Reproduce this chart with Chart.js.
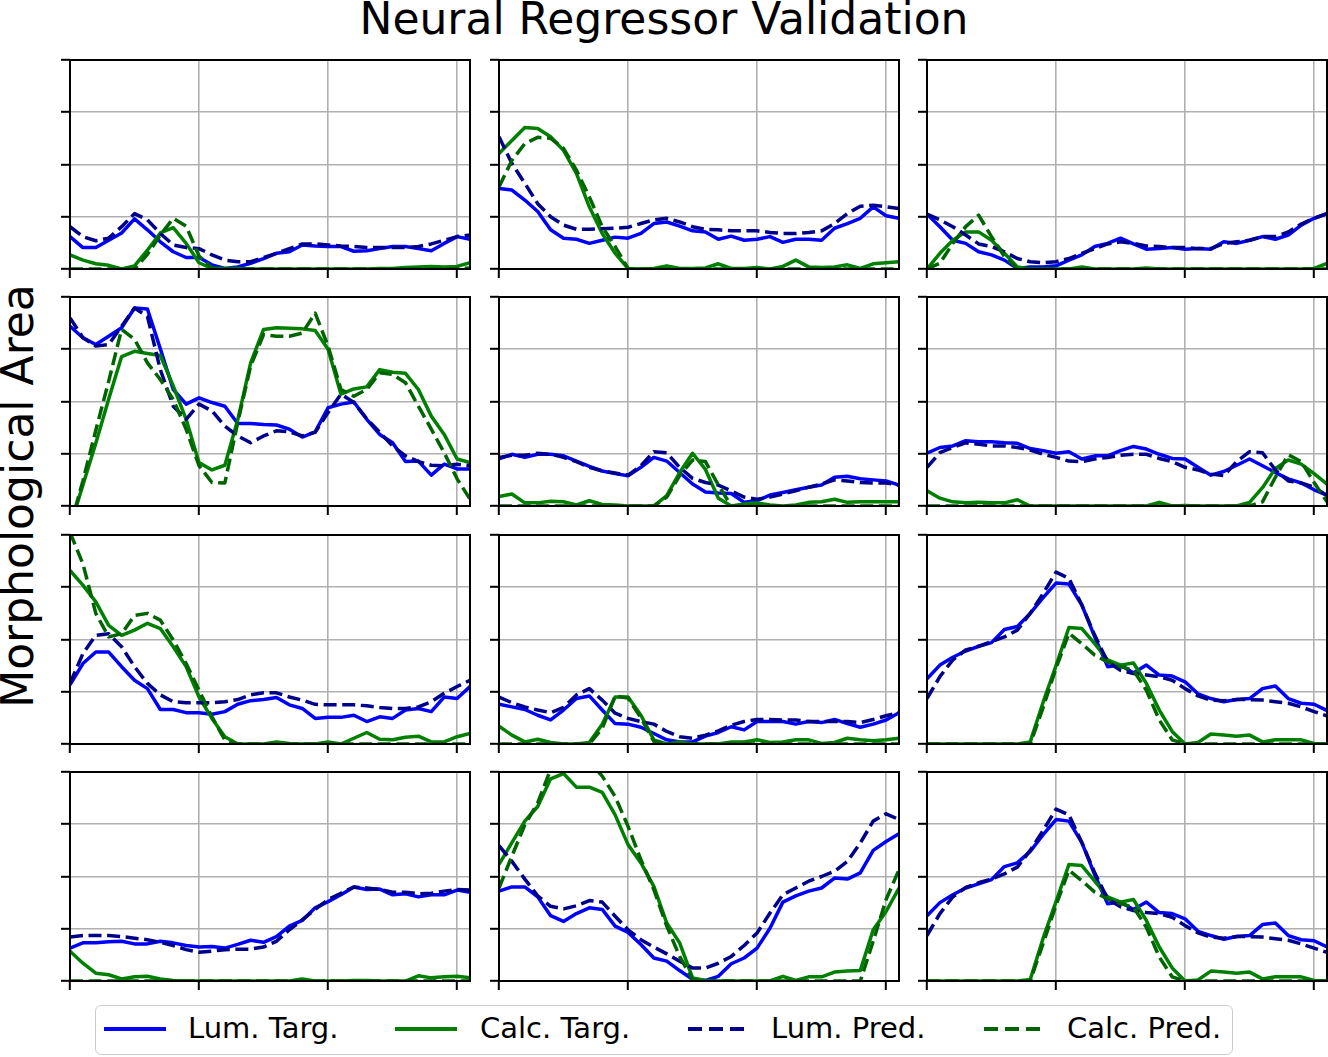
<!DOCTYPE html>
<html>
<head>
<meta charset="utf-8">
<script src="https://cdn.jsdelivr.net/npm/chart.js@4.4.1/dist/chart.umd.min.js"></script>
<style>
html,body{margin:0;padding:0;background:#fff;}
body{width:1328px;height:1057px;position:relative;overflow:hidden;font-family:"DejaVu Sans",sans-serif;color:#000;}
canvas.panel{position:absolute;}
#title{position:absolute;left:0;width:1328px;text-align:center;top:-3px;font-size:44px;line-height:44px;white-space:nowrap;}
#ylabel{position:absolute;left:18px;top:496px;font-size:44px;line-height:44px;white-space:nowrap;transform:translate(-50%,-50%) rotate(-90deg);}
#legend{position:absolute;left:95px;top:1005px;width:1136px;height:48px;border:1.5px solid #cccccc;border-radius:6px;background:#fff;}
.lg-line{position:absolute;height:4px;top:1027px;width:62px;}
.lg-text{position:absolute;top:1013px;font-size:29px;line-height:30px;white-space:nowrap;}
</style>
</head>
<body>
<div id="title">Neural Regressor Validation</div>
<div id="ylabel">Morphological Area</div>
<div id="legend"></div>
<div id="charts"></div>
<script>
// ---- data ----
const steps = [0,1,2,3,4,5,6,7,8,9,10,11,12,13,14,15,16,17,18,19,20,21,22,23,24,25,26,27,28,29,30,31];
const xTickValues = [0,10,20,30];
const yTickValues = [0,1,2,3,4];
const seriesNames = ["Lum. Targ.","Calc. Targ.","Lum. Pred.","Calc. Pred."];

// Lum. Targ. (one array per panel, row by row)
const lumTarg = [
 [0.62,0.41,0.41,0.55,0.69,0.96,0.75,0.52,0.33,0.22,0.22,0.08,0.01,0.04,0.11,0.20,0.30,0.33,0.46,0.44,0.43,0.43,0.34,0.35,0.39,0.43,0.43,0.39,0.35,0.49,0.62,0.57],
 [1.54,1.51,1.32,1.10,0.75,0.59,0.57,0.49,0.55,0.61,0.59,0.68,0.87,0.90,0.82,0.73,0.71,0.57,0.63,0.55,0.57,0.62,0.51,0.57,0.57,0.55,0.78,0.87,0.97,1.19,1.02,0.97],
 [1.05,0.81,0.55,0.49,0.33,0.27,0.17,0.01,0.04,0.04,0.06,0.17,0.27,0.43,0.49,0.59,0.48,0.38,0.39,0.41,0.38,0.39,0.38,0.52,0.49,0.55,0.62,0.57,0.65,0.84,0.97,1.06],
 [3.44,3.22,3.09,3.25,3.41,3.79,3.77,3.01,2.23,1.95,2.07,1.98,1.91,1.58,1.58,1.56,1.55,1.47,1.32,1.42,1.88,1.95,1.99,1.66,1.37,1.21,0.85,0.86,0.59,0.80,0.71,0.71],
 [0.90,0.99,0.93,0.99,0.99,0.96,0.86,0.76,0.67,0.62,0.58,0.74,0.93,0.86,0.64,0.42,0.27,0.25,0.24,0.07,0.10,0.21,0.26,0.31,0.36,0.40,0.55,0.57,0.52,0.50,0.48,0.40],
 [1.01,1.12,1.15,1.25,1.23,1.23,1.21,1.20,1.10,1.06,1.01,1.04,0.90,0.96,0.96,1.06,1.14,1.09,0.99,0.91,0.90,0.74,0.59,0.66,0.78,0.90,0.77,0.64,0.52,0.44,0.31,0.21],
 [1.13,1.54,1.76,1.76,1.48,1.22,1.06,0.66,0.66,0.60,0.60,0.57,0.62,0.76,0.83,0.85,0.89,0.75,0.68,0.49,0.51,0.51,0.55,0.43,0.52,0.49,0.65,0.68,0.62,0.90,0.87,1.10],
 [0.76,0.71,0.66,0.55,0.46,0.65,0.87,0.92,0.65,0.39,0.38,0.32,0.20,0.08,0.04,0.04,0.15,0.22,0.33,0.27,0.43,0.43,0.43,0.38,0.43,0.41,0.47,0.39,0.32,0.38,0.46,0.60],
 [1.25,1.51,1.66,1.78,1.87,1.94,2.19,2.25,2.50,2.80,3.08,3.06,2.66,2.05,1.48,1.51,1.36,1.51,1.32,1.30,1.19,0.96,0.87,0.81,0.85,0.87,1.06,1.11,0.87,0.78,0.76,0.64],
 [0.63,0.73,0.73,0.75,0.76,0.71,0.71,0.76,0.73,0.68,0.65,0.66,0.63,0.70,0.78,0.74,0.85,1.05,1.16,1.40,1.52,1.65,1.80,1.75,1.76,1.65,1.67,1.61,1.65,1.65,1.74,1.70],
 [1.72,1.80,1.80,1.61,1.25,1.14,1.29,1.40,1.37,1.05,0.93,0.70,0.44,0.38,0.20,0.03,0.01,0.09,0.33,0.44,0.63,1.01,1.51,1.63,1.72,1.78,1.97,1.95,2.07,2.50,2.67,2.82],
 [1.25,1.50,1.65,1.78,1.86,1.94,2.19,2.26,2.48,2.80,3.09,3.06,2.65,2.03,1.48,1.51,1.37,1.51,1.31,1.29,1.19,0.95,0.87,0.80,0.85,0.87,1.08,1.11,0.87,0.79,0.77,0.65]
];

// Calc. Targ.
const calcTarg = [
 [0.27,0.17,0.10,0.07,0.00,0.06,0.36,0.69,0.79,0.49,0.12,0.01,0.01,0.01,0.00,0.00,0.00,0.00,0.00,0.00,0.00,0.00,0.00,0.00,0.01,0.01,0.03,0.04,0.05,0.04,0.05,0.12],
 [2.21,2.46,2.71,2.69,2.53,2.27,1.83,1.19,0.68,0.30,0.01,0.00,0.01,0.06,0.01,0.01,0.02,0.10,0.01,0.01,0.03,0.00,0.05,0.17,0.04,0.03,0.04,0.08,0.01,0.10,0.12,0.14],
 [0.00,0.30,0.55,0.71,0.71,0.55,0.30,0.04,0.00,0.00,0.00,0.00,0.04,0.00,0.00,0.00,0.00,0.02,0.00,0.00,0.00,0.00,0.00,0.00,0.00,0.00,0.00,0.00,0.00,0.00,0.01,0.11],
 [-0.40,0.40,1.20,2.05,2.86,2.96,2.92,2.88,2.30,1.66,0.83,0.69,0.78,1.65,2.74,3.38,3.41,3.40,3.39,3.36,3.00,2.14,2.24,2.28,2.61,2.56,2.54,2.23,1.72,1.37,0.90,0.83],
 [0.18,0.23,0.06,0.06,0.09,0.08,0.02,0.10,0.03,0.02,0.00,0.00,0.00,0.20,0.64,1.01,0.70,0.15,0.00,0.04,0.06,0.02,0.00,0.02,0.07,0.08,0.13,0.07,0.08,0.08,0.08,0.08],
 [0.29,0.15,0.08,0.06,0.07,0.06,0.06,0.12,0.00,0.00,0.00,0.00,0.00,0.00,0.00,0.00,0.00,0.00,0.07,0.00,0.01,0.00,0.00,0.00,0.00,0.07,0.35,0.72,0.88,0.80,0.62,0.42],
 [3.32,3.04,2.72,2.27,2.08,2.18,2.31,2.21,1.86,1.48,0.90,0.49,0.14,0.00,0.00,0.00,0.04,0.01,0.00,0.00,0.04,0.00,0.11,0.22,0.09,0.08,0.13,0.15,0.04,0.04,0.14,0.20],
 [0.34,0.17,0.04,0.09,0.03,0.00,0.00,0.03,0.38,0.90,0.90,0.55,0.08,0.00,0.04,0.00,0.00,0.00,0.04,0.04,0.08,0.03,0.04,0.08,0.08,0.01,0.03,0.11,0.08,0.06,0.08,0.11],
 [0.00,0.00,0.00,0.00,0.00,0.00,0.00,0.00,0.04,0.80,1.50,2.23,2.21,1.92,1.61,1.51,1.55,1.16,0.65,0.24,0.00,0.03,0.19,0.17,0.15,0.17,0.04,0.08,0.08,0.08,0.01,0.00],
 [0.57,0.34,0.15,0.12,0.04,0.08,0.09,0.04,0.01,0.00,0.00,0.00,0.00,0.00,0.00,0.00,0.00,0.00,0.04,0.00,0.00,0.00,0.01,0.01,0.00,0.00,0.00,0.10,0.06,0.08,0.09,0.06],
 [2.23,2.65,3.06,3.34,3.87,3.97,3.71,3.71,3.61,3.18,2.61,2.26,1.81,1.11,0.73,0.06,0.01,0.00,0.00,0.00,0.00,0.00,0.09,0.01,0.08,0.08,0.17,0.19,0.20,0.98,1.33,1.78],
 [0.00,0.00,0.00,0.00,0.00,0.00,0.00,0.00,0.03,0.82,1.52,2.23,2.21,1.91,1.61,1.51,1.56,1.16,0.65,0.25,0.00,0.02,0.19,0.17,0.15,0.17,0.04,0.08,0.08,0.08,0.01,0.00]
];

// Lum. Pred.
const lumPred = [
 [0.81,0.62,0.54,0.59,0.81,1.06,0.94,0.68,0.46,0.41,0.39,0.27,0.17,0.14,0.14,0.22,0.30,0.39,0.48,0.48,0.46,0.44,0.43,0.41,0.41,0.41,0.41,0.43,0.48,0.55,0.62,0.65],
 [2.53,2.02,1.64,1.25,1.00,0.84,0.76,0.76,0.77,0.78,0.80,0.87,0.94,0.97,0.90,0.81,0.76,0.75,0.73,0.73,0.73,0.70,0.68,0.68,0.70,0.73,0.87,1.06,1.20,1.22,1.19,1.16],
 [1.05,0.94,0.81,0.65,0.48,0.43,0.33,0.20,0.14,0.12,0.14,0.20,0.30,0.39,0.48,0.52,0.49,0.44,0.43,0.41,0.41,0.39,0.39,0.49,0.52,0.55,0.62,0.62,0.71,0.86,0.97,1.06],
 [3.60,3.22,3.06,3.09,3.44,3.79,3.63,2.61,1.91,1.66,1.95,1.82,1.53,1.34,1.21,1.34,1.44,1.42,1.34,1.41,1.79,2.14,1.98,1.67,1.41,1.15,0.96,0.85,0.78,0.77,0.80,0.77],
 [0.93,0.97,0.97,1.01,0.99,0.93,0.85,0.74,0.67,0.63,0.59,0.77,1.04,1.02,0.74,0.53,0.45,0.40,0.29,0.17,0.13,0.17,0.23,0.29,0.36,0.42,0.50,0.48,0.45,0.44,0.44,0.40],
 [0.74,1.02,1.12,1.21,1.18,1.15,1.15,1.12,1.07,0.99,0.93,0.86,0.85,0.90,0.93,0.97,0.99,0.99,0.91,0.85,0.74,0.69,0.61,0.58,0.85,1.04,1.02,0.69,0.48,0.44,0.36,0.20],
 [1.16,1.73,2.08,2.11,1.86,1.48,1.16,0.94,0.81,0.79,0.79,0.79,0.81,0.85,0.94,0.98,0.98,0.90,0.84,0.76,0.75,0.75,0.75,0.73,0.70,0.68,0.68,0.71,0.81,0.97,1.10,1.22],
 [0.90,0.79,0.71,0.65,0.60,0.70,0.94,1.06,0.84,0.59,0.49,0.43,0.38,0.24,0.14,0.11,0.17,0.25,0.36,0.43,0.47,0.47,0.46,0.46,0.43,0.43,0.43,0.43,0.41,0.47,0.54,0.60],
 [0.87,1.29,1.61,1.80,1.87,1.96,2.05,2.18,2.50,2.88,3.29,3.17,2.66,2.08,1.57,1.41,1.35,1.32,1.29,1.22,1.06,0.92,0.84,0.83,0.85,0.85,0.84,0.81,0.78,0.71,0.62,0.54],
 [0.84,0.87,0.87,0.87,0.85,0.82,0.79,0.74,0.68,0.60,0.55,0.57,0.60,0.61,0.61,0.65,0.76,0.98,1.17,1.37,1.56,1.68,1.80,1.78,1.75,1.70,1.70,1.67,1.68,1.72,1.75,1.74],
 [2.59,2.29,1.95,1.63,1.43,1.38,1.44,1.54,1.51,1.24,0.98,0.79,0.65,0.52,0.38,0.25,0.25,0.34,0.47,0.68,0.92,1.30,1.65,1.78,1.91,2.00,2.10,2.29,2.64,3.06,3.20,3.09],
 [0.87,1.29,1.61,1.79,1.88,1.95,2.05,2.18,2.50,2.88,3.29,3.18,2.65,2.07,1.57,1.42,1.35,1.31,1.29,1.22,1.06,0.92,0.84,0.82,0.85,0.85,0.84,0.81,0.78,0.71,0.63,0.55]
];

// Calc. Pred.
const calcPred = [
 [0.00,0.00,0.00,0.00,0.00,0.00,0.28,0.65,0.97,0.82,0.25,0.02,0.00,0.00,0.00,0.00,0.00,0.00,0.00,0.00,0.00,0.00,0.00,0.00,0.00,0.00,0.00,0.00,0.00,0.00,0.01,0.02],
 [1.57,2.08,2.40,2.52,2.50,2.31,1.89,1.38,0.81,0.43,0.01,0.00,0.00,0.00,0.00,0.00,0.00,0.00,0.00,0.00,0.00,0.00,0.00,0.00,0.00,0.00,0.00,0.00,0.00,0.00,0.00,0.00],
 [0.00,0.11,0.49,0.81,1.03,0.62,0.24,0.01,0.00,0.00,0.00,0.00,0.00,0.00,0.00,0.00,0.00,0.00,0.00,0.00,0.00,0.00,0.00,0.00,0.00,0.00,0.00,0.00,0.00,0.00,0.00,0.00],
 [-0.40,0.48,1.45,2.39,3.38,3.19,2.74,2.42,2.04,1.47,0.77,0.45,0.44,1.60,2.68,3.28,3.25,3.25,3.31,3.69,3.06,2.23,2.10,2.23,2.55,2.52,2.36,1.91,1.47,1.02,0.52,0.13],
 [0.00,0.00,0.00,0.00,0.00,0.00,0.00,0.00,0.00,0.00,0.00,0.00,0.00,0.17,0.58,0.88,0.85,0.40,0.00,0.00,0.00,0.00,0.00,0.00,0.00,0.00,0.00,0.00,0.00,0.00,0.00,0.00],
 [0.00,0.00,0.00,0.00,0.00,0.00,0.00,0.00,0.00,0.00,0.00,0.00,0.00,0.00,0.00,0.00,0.00,0.00,0.00,0.00,0.00,0.00,0.00,0.00,0.00,0.00,0.08,0.55,0.98,0.85,0.45,0.08],
 [4.05,3.45,2.50,2.05,2.11,2.46,2.50,2.37,1.99,1.54,1.03,0.52,0.08,0.00,0.00,0.00,0.00,0.00,0.00,0.00,0.00,0.00,0.00,0.00,0.00,0.00,0.00,0.00,0.00,0.00,0.00,0.00],
 [0.00,0.00,0.00,0.00,0.00,0.00,0.00,0.00,0.30,0.92,0.88,0.50,0.05,0.00,0.00,0.00,0.00,0.00,0.00,0.00,0.00,0.00,0.00,0.00,0.00,0.00,0.00,0.00,0.00,0.00,0.00,0.00],
 [0.00,0.00,0.00,0.00,0.00,0.00,0.00,0.00,0.00,0.70,1.45,2.12,1.92,1.70,1.57,1.48,1.41,1.03,0.46,0.08,0.00,0.00,0.00,0.00,0.00,0.00,0.00,0.00,0.00,0.00,0.00,0.00],
 [0.00,0.00,0.00,0.00,0.00,0.00,0.00,0.00,0.00,0.00,0.00,0.00,0.00,0.00,0.00,0.00,0.00,0.00,0.00,0.00,0.00,0.00,0.00,0.00,0.00,0.00,0.00,0.00,0.00,0.00,0.00,0.00],
 [1.78,2.39,2.99,3.41,4.05,4.30,4.30,4.20,3.92,3.53,2.96,2.32,1.75,1.05,0.47,0.03,0.00,0.00,0.00,0.00,0.00,0.00,0.00,0.00,0.00,0.00,0.00,0.00,0.00,0.76,1.56,2.13],
 [0.00,0.00,0.00,0.00,0.00,0.00,0.00,0.00,0.00,0.72,1.45,2.12,1.92,1.70,1.57,1.48,1.41,1.03,0.46,0.08,0.00,0.00,0.00,0.00,0.00,0.00,0.00,0.00,0.00,0.00,0.00,0.00]
];

// ---- styles / layout ----
const seriesColors = ["#0000ff", "#008000", "#00008b", "#006400"];
const seriesDash = [[], [], [13,5.6], [13,5.6]];
const colLeft = [70, 499, 927];
const rowTop = [60, 297, 535, 772];
const plotW = 400, plotH = 209;
const padL = 2, padT = 6, padR = 6, padB = 2, axisSize = 10;

const framePlugin = {
  id: 'frame',
  afterDatasetsDraw(chart) {
    const {ctx, chartArea: a} = chart;
    ctx.save();
    ctx.strokeStyle = '#000';
    ctx.lineWidth = 2;
    ctx.strokeRect(a.left, a.top, a.right - a.left, a.bottom - a.top);
    ctx.restore();
  }
};

const allSeries = [lumTarg, calcTarg, lumPred, calcPred];
const holder = document.getElementById('charts');

for (let p = 0; p < 12; p++) {
  const r = Math.floor(p / 3), c = p % 3;
  const cv = document.createElement('canvas');
  cv.className = 'panel';
  const cw = plotW + padL + padR + axisSize, ch = plotH + padT + padB + axisSize;
  cv.width = cw; cv.height = ch;
  cv.style.width = cw + 'px'; cv.style.height = ch + 'px';
  cv.style.left = (colLeft[c] - padL - axisSize) + 'px';
  cv.style.top = (rowTop[r] - padT) + 'px';
  holder.appendChild(cv);

  const datasets = allSeries.map((s, k) => ({
    label: seriesNames[k],
    data: steps.map((x, i) => ({x: x, y: s[p][i]})),
    borderColor: seriesColors[k],
    backgroundColor: seriesColors[k],
    borderWidth: 3.5,
    borderDash: seriesDash[k],
    borderCapStyle: 'butt',
    borderJoinStyle: 'round',
    pointRadius: 0,
    tension: 0,
    fill: false,
    clip: 0,
    order: 3 - k
  }));

  const gridOpts = {color: '#b0b0b0', lineWidth: 1.6, drawTicks: true, tickLength: 9, tickColor: '#000', tickWidth: 2};
  new Chart(cv, {
    type: 'line',
    data: {datasets},
    options: {
      responsive: false, animation: false, devicePixelRatio: 1,
      layout: {padding: {left: padL, top: padT, right: padR, bottom: padB}},
      plugins: {legend: {display: false}, tooltip: {enabled: false}, title: {display: false}},
      scales: {
        x: {
          type: 'linear', min: steps[0], max: steps[steps.length - 1],
          afterBuildTicks: s => { s.ticks = xTickValues.map(v => ({value: v})); },
          afterFit: s => { s.height = axisSize; },
          ticks: {display: false},
          grid: gridOpts,
          border: {display: false}
        },
        y: {
          type: 'linear', min: yTickValues[0], max: yTickValues[yTickValues.length - 1],
          afterBuildTicks: s => { s.ticks = yTickValues.map(v => ({value: v})); },
          afterFit: s => { s.width = axisSize; },
          ticks: {display: false},
          grid: gridOpts,
          border: {display: false}
        }
      }
    },
    plugins: [framePlugin]
  });
}

// ---- legend (HTML) ----
const legendLineLeft = [104, 395, 688, 984];
const legendTextLeft = [188, 480, 771, 1067];
seriesNames.forEach((name, k) => {
  const ln = document.createElement('div');
  ln.className = 'lg-line';
  ln.style.left = legendLineLeft[k] + 'px';
  if (seriesDash[k].length) {
    ln.style.background = `repeating-linear-gradient(to right, ${seriesColors[k]} 0 14px, transparent 14px 21px)`;
  } else {
    ln.style.background = seriesColors[k];
  }
  document.body.appendChild(ln);
  const tx = document.createElement('div');
  tx.className = 'lg-text';
  tx.style.left = legendTextLeft[k] + 'px';
  tx.textContent = name;
  document.body.appendChild(tx);
});
</script>
</body>
</html>
